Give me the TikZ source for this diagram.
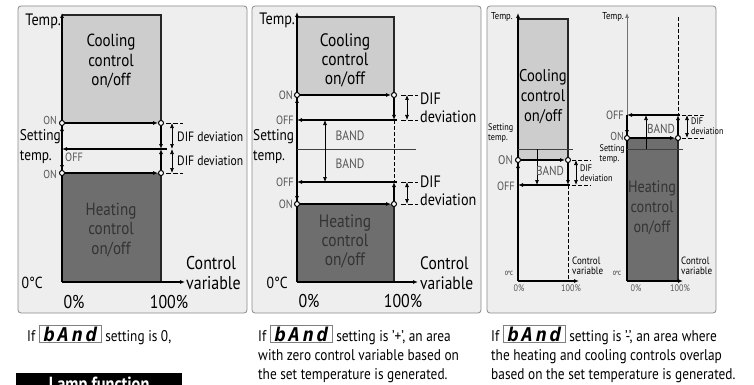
\documentclass[tikz,border=0pt]{standalone}
\usepackage{fontspec}
\setmainfont[FakeStretch=0.86]{PT Sans}
\newfontfamily\segfont{DejaVu Sans Mono}
\usepackage{tikz}
\usetikzlibrary{arrows, arrows.meta, positioning}
\definecolor{panelbg}{HTML}{EEEEEE}
\definecolor{panelline}{HTML}{8A8A8A}
\definecolor{coolfill}{HTML}{CDCDCD}
\definecolor{heatfill}{HTML}{6E6E6E}
\definecolor{softtext}{HTML}{555555}
\newcommand{\bandbox}{{\setlength{\fboxsep}{0.6pt}\setlength{\fboxrule}{0.8pt}%
  \fcolorbox{gray}{white}{\makebox[60pt]{\segfont\bfseries\itshape\fontsize{19}{19}\selectfont
  \,b\hfill A\hfill n\hfill d\,}}}}

\begin{document}
\begin{tikzpicture}[x=1pt,y=-1pt,>={Latex[length=5pt,width=4pt]}]
 \tikzstyle{panel}=[draw=panelline,fill=panelbg,rounded corners=3pt,line width=0.8pt]
 \tikzstyle{hyst}=[line width=1.6pt,black]
 \tikzstyle{link}=[line width=1.1pt,black]
 \tikzstyle{dim}=[line width=0.7pt,black]
 \tikzstyle{tick}=[line width=0.7pt,dashed,dash pattern=on 5pt off 2pt,black]
 \tikzstyle{edge}=[line width=1.4pt,black!85]
 \tikzstyle{axis}=[line width=1.1pt,black]
 \tikzstyle{pt}=[circle,draw,fill=white,line width=1pt,inner sep=0pt,minimum size=5pt]
 \tikzstyle{boxtext}=[align=center,inner sep=0pt,font=\fontsize{17.5}{19.5}\selectfont]
 \tikzstyle{smalltext}=[inner sep=0pt,text=softtext,font=\fontsize{12}{12}\selectfont]
 \tikzstyle{axtext}=[inner sep=0pt,font=\fontsize{18.5}{20}\selectfont]
 \tikzstyle{captext}=[inner sep=0pt,anchor=base west,font=\fontsize{15.5}{18}\selectfont]
 \clip (0,0) rectangle (754,385);

 % ---------- panel 1: band = 0
 \draw[panel] (18,6) rectangle (247,313);
 \fill[coolfill] (62,15) rectangle (161,123);
 \fill[heatfill] (62,173) rectangle (161,282);
 \draw[edge] (62,15) -- (161,15) -- (161,123);
 \draw[edge] (161,173) -- (161,282);
 \coordinate (o1) at (62,282);
 \coordinate (t1) at (62,13);
 \coordinate (x1) at (185,282);
 \draw[axis,->] (o1) -- (t1);
 \draw[axis,->] (o1) -- (x1);
 \node (cool1) [boxtext] at (111,61) {Cooling\\control\\on/off};
 \node (heat1) [boxtext,text=black!80] at (111,230) {Heating\\control\\on/off};
 \node (on1u) [pt] at (62,123) {};
 \node (on1ur) [pt] at (161,123) {};
 \node (on1l) [pt] at (62,173) {};
 \node (on1lr) [pt] at (161,173) {};
 \coordinate (off1l) at (62,149);
 \coordinate (off1r) at (167,149);
 \coordinate (off1m) at (161,149);
 \draw[hyst,->] (on1u) -- (on1ur);
 \draw[hyst,->] (on1l) -- (on1lr);
 \draw[hyst,->] (off1r) -- (off1l);
 \draw[link,->] (off1l) -- (on1u);
 \draw[link,->] (off1l) -- (on1l);
 \draw[link,->] (on1ur) -- (off1m);
 \draw[link,->] (on1lr) -- (off1m);
 \draw[dim,<->] (172,123) -- (172,149);
 \draw[dim,<->] (172,149) -- (172,173);
 \draw[tick] (166,123) -- (183,123);
 \draw[tick] (166,173) -- (183,173);
 \node (dif1a) [axtext,anchor=west,font=\fontsize{13.5}{13.5}\selectfont] at (177,137) {DIF deviation};
 \node (dif1b) [axtext,anchor=west,font=\fontsize{13.5}{13.5}\selectfont] at (177,161) {DIF deviation};
 \node (on1ut) [smalltext,anchor=east,font=\fontsize{11.5}{11.5}\selectfont] at (57,120) {ON};
 \node (on1lt) [smalltext,anchor=east,font=\fontsize{11.5}{11.5}\selectfont] at (57,174) {ON};
 \node (off1t) [smalltext,anchor=west] at (65,157) {OFF};
 \node (set1) [axtext,anchor=east,align=left,font=\fontsize{15.5}{20}\selectfont] at (61,147) {Setting\\temp.};
 \node (temp1) [axtext,anchor=east,font=\fontsize{16.5}{16.5}\selectfont] at (61,21) {Temp.};
 \node (zero1) [axtext,anchor=east,font=\fontsize{16}{16}\selectfont] at (43,283) {0°C};
 \node (p01) [axtext] at (74,302) {0\%};
 \node (p1001) [axtext] at (169,302) {100\%};
 \node (cv1) [axtext,anchor=west,align=left] at (186,273) {Control\\variable};
 \node (cap1) [captext] at (27,341) {If \bandbox\ setting is 0,};
 \node (lamp) [anchor=north west,fill=black,text=white,minimum width=166pt,minimum height=24pt,
   inner sep=0pt,font=\bfseries\fontsize{19}{19}\selectfont] at (16,373) {Lamp function};

 % ---------- panel 2: band +
 \draw[panel] (252,6) rectangle (481,313);
 \fill[coolfill] (297,17) rectangle (394,95);
 \fill[heatfill] (297,204) rectangle (394,282);
 \draw[edge] (297,17) -- (394,17) -- (394,95);
 \draw[edge] (394,204) -- (394,282);
 \coordinate (o2) at (297,282);
 \coordinate (t2) at (297,12);
 \coordinate (x2) at (418,282);
 \draw[axis,->] (o2) -- (t2);
 \draw[axis,->] (o2) -- (x2);
 \node (cool2) [boxtext,font=\fontsize{18}{19}\selectfont] at (345,60) {Cooling\\control\\on/off};
 \node (heat2) [boxtext,text=black!80,font=\fontsize{18}{19}\selectfont] at (345,241) {Heating\\control\\on/off};
 \node (on2u) [pt] at (297,95) {};
 \node (on2ur) [pt] at (394,95) {};
 \node (on2l) [pt] at (297,204) {};
 \node (on2lr) [pt] at (394,204) {};
 \coordinate (off2ul) at (297,120);
 \coordinate (off2ur) at (397,120);
 \coordinate (off2um) at (394,120);
 \coordinate (off2ll) at (297,182);
 \coordinate (off2lr) at (397,182);
 \coordinate (off2lm) at (394,182);
 \coordinate (set2l) at (297,149);
 \coordinate (set2r) at (416,149);
 \draw[line width=0.7pt,black!75] (set2l) -- (set2r);
 \draw[dim,dashed,dash pattern=on 4pt off 2pt] (off2um) -- (off2lm);
 \draw[hyst,->] (on2u) -- (on2ur);
 \draw[hyst,->] (on2l) -- (on2lr);
 \draw[hyst,->] (off2ur) -- (off2ul);
 \draw[hyst,->] (off2lr) -- (off2ll);
 \draw[link,->] (off2ul) -- (on2u);
 \draw[link,->] (off2ll) -- (on2l);
 \draw[link,->] (on2ur) -- (off2um);
 \draw[link,->] (on2lr) -- (off2lm);
 \draw[dim,<->] (325,120) -- (325,182);
 \draw[dim,<->] (407,95) -- (407,120);
 \draw[dim,<->] (407,182) -- (407,204);
 \draw[tick] (401,95) -- (418,95);
 \draw[tick] (401,120) -- (418,120);
 \draw[tick] (401,182) -- (418,182);
 \draw[tick] (401,204) -- (418,204);
 \node (band2a) [smalltext,font=\fontsize{13.5}{13.5}\selectfont] at (350,136) {BAND};
 \node (band2b) [smalltext,font=\fontsize{13.5}{13.5}\selectfont] at (350,164) {BAND};
 \node (dif2a) [axtext,anchor=west,align=left,font=\fontsize{16.5}{18}\selectfont] at (420,108) {DIF\\deviation};
 \node (dif2b) [axtext,anchor=west,align=left,font=\fontsize{16.5}{18}\selectfont] at (420,191) {DIF\\deviation};
 \node (on2ut) [smalltext,anchor=east] at (293,95) {ON};
 \node (off2ut) [smalltext,anchor=east] at (294,120) {OFF};
 \node (off2lt) [smalltext,anchor=east] at (294,182) {OFF};
 \node (on2lt) [smalltext,anchor=east] at (293,204) {ON};
 \node (set2) [axtext,anchor=west,align=left,font=\fontsize{15.5}{20}\selectfont] at (253,147) {Setting\\temp.};
 \node (temp2) [axtext,anchor=east,font=\fontsize{16.5}{16.5}\selectfont] at (295,20) {Temp.};
 \node (zero2) [axtext,anchor=east,font=\fontsize{16}{16}\selectfont] at (288,283) {0°C};
 \node (p02) [axtext] at (309,301) {0\%};
 \node (p1002) [axtext] at (403,301) {100\%};
 \node (cv2) [axtext,anchor=west,align=left,font=\fontsize{18}{20}\selectfont] at (420,273) {Control\\variable};
 \node (cap2a) [captext] at (258,341) {If \bandbox\ setting is '+', an area};
 \node (cap2b) [captext] at (258,360) {with zero control variable based on};
 \node (cap2c) [captext] at (258,379) {the set temperature is generated.};

 % ---------- panel 3: band -
 \draw[panel] (487,6) rectangle (716,313);
 % left graph (cooling)
 \fill[coolfill] (518,19) rectangle (568,160);
 \draw[edge] (518,19) -- (568,19) -- (568,160);
 \coordinate (o3) at (518,281);
 \coordinate (t3) at (518,13);
 \coordinate (x3) at (579,281);
 \draw[axis,->] (o3) -- (t3);
 \draw[axis,->] (o3) -- (x3);
 \node (cool3) [boxtext,font=\fontsize{17}{20}\selectfont] at (543,97) {Cooling\\control\\on/off};
 \coordinate (set3l) at (518,149);
 \coordinate (set3r) at (573,149);
 \coordinate (set3b) at (537,149);
 \draw[line width=0.7pt,black!75] (set3l) -- (set3r);
 \node (on3l) [pt] at (518,160) {};
 \node (on3r) [pt] at (568,160) {};
 \coordinate (off3l) at (518,185);
 \coordinate (off3r) at (570,185);
 \coordinate (off3m) at (568,185);
 \coordinate (off3b) at (537,185);
 \coordinate (cut3) at (568,281);
 \draw[dim,dashed,dash pattern=on 4pt off 2pt] (off3m) -- (cut3);
 \draw[hyst,->] (on3l) -- (on3r);
 \draw[hyst,->] (off3r) -- (off3l);
 \draw[link,->] (off3l) -- (on3l);
 \draw[link,->] (on3r) -- (off3m);
 \draw[dim,->] (set3b) -- (off3b);
 \draw[dim,<->] (576,160) -- (576,185);
 \draw[tick,dash pattern=on 4pt off 2pt] (572,160) -- (591,160);
 \draw[tick,dash pattern=on 4pt off 2pt] (572,185) -- (591,185);
 \node (band3a) [smalltext,font=\fontsize{13}{13}\selectfont] at (550,171) {BAND};
 \node (dif3a) [axtext,anchor=west,align=left,font=\fontsize{9.5}{10}\selectfont] at (580,173) {DIF\\deviation};
 \node (on3t) [smalltext,anchor=east,font=\fontsize{12.5}{12.5}\selectfont] at (513,160) {ON};
 \node (off3t) [smalltext,anchor=east,font=\fontsize{12}{12}\selectfont] at (515,186) {OFF};
 \node (set3) [axtext,anchor=west,align=left,font=\fontsize{9.5}{10.5}\selectfont] at (488,133) {Setting\\temp.};
 \node (temp3) [axtext,anchor=west,font=\fontsize{10}{10}\selectfont] at (491,17) {Temp.};
 \node (zero3) [axtext,font=\fontsize{6}{6}\selectfont] at (509,273) {0°C};
 \node (p03) [axtext,text=softtext,font=\fontsize{9.5}{9.5}\selectfont] at (519,288) {0\%};
 \node (p1003) [axtext,text=softtext,font=\fontsize{9.5}{9.5}\selectfont] at (571,288) {100\%};
 \node (cv3) [axtext,anchor=west,align=left,font=\fontsize{10.5}{10.5}\selectfont] at (572,266) {Control\\variable};
 % right graph (heating)
 \fill[heatfill] (627,138) rectangle (678,281);
 \draw[edge] (678,138) -- (678,281);
 \coordinate (o4) at (627,281);
 \coordinate (t4) at (627,13);
 \coordinate (x4) at (683,281);
 \coordinate (off4l) at (627,115);
 \draw[line width=0.7pt,black!55,->] (off4l) -- (t4);
 \draw[axis] (o4) -- (off4l);
 \draw[axis,->] (o4) -- (x4);
 \node (heat4) [boxtext,text=black!80,font=\fontsize{16.5}{20}\selectfont] at (652,208) {Heating\\control\\on/off};
 \coordinate (set4l) at (627,149);
 \coordinate (set4r) at (683,149);
 \coordinate (set4b) at (646,149);
 \draw[line width=0.7pt,black!75] (set4l) -- (set4r);
 \node (on4l) [pt] at (627,138) {};
 \node (on4r) [pt] at (678,138) {};
 \coordinate (off4r) at (680,115);
 \coordinate (off4m) at (678,115);
 \coordinate (off4b) at (646,115);
 \coordinate (top4) at (678,17);
 \draw[dim,dashed,dash pattern=on 4pt off 2pt] (top4) -- (off4m);
 \draw[hyst,->] (on4l) -- (on4r);
 \draw[hyst,->] (off4r) -- (off4l);
 \draw[link,->] (off4l) -- (on4l);
 \draw[link,->] (on4r) -- (off4m);
 \draw[dim,->] (set4b) -- (off4b);
 \draw[dim,<->] (687,115) -- (687,138);
 \draw[tick,dash pattern=on 4pt off 2pt] (682,115) -- (704,115);
 \draw[tick,dash pattern=on 4pt off 2pt] (682,138) -- (704,138);
 \node (band4a) [smalltext,font=\fontsize{13}{13}\selectfont] at (661,129) {BAND};
 \node (dif4a) [axtext,anchor=west,align=left,font=\fontsize{9.5}{10}\selectfont] at (691,126) {DIF\\deviation};
 \node (on4t) [smalltext,anchor=east,font=\fontsize{11.5}{11.5}\selectfont] at (624,136) {ON};
 \node (off4t) [smalltext,anchor=east,font=\fontsize{12}{12}\selectfont] at (624,115) {OFF};
 \node (set4) [axtext,anchor=east,align=left,font=\fontsize{9.5}{10.5}\selectfont] at (625,154) {Setting\\temp.};
 \node (temp4) [axtext,anchor=east,font=\fontsize{10}{10}\selectfont] at (624,17) {Temp.};
 \node (zero4) [axtext,font=\fontsize{6}{6}\selectfont] at (617,273) {0°C};
 \node (p04) [axtext,text=softtext,font=\fontsize{9.5}{9.5}\selectfont] at (636,288) {0\%};
 \node (p1004) [axtext,text=softtext,font=\fontsize{9.5}{9.5}\selectfont] at (680,288) {100\%};
 \node (cv4) [axtext,anchor=west,align=left,font=\fontsize{10.5}{10.5}\selectfont] at (681,266) {Control\\variable};
 \node (cap3a) [captext] at (491,341) {If \bandbox\ setting is '-', an area where};
 \node (cap3b) [captext] at (491,360) {the heating and cooling controls overlap};
 \node (cap3c) [captext] at (491,379) {based on the set temperature is generated.};
\end{tikzpicture}
\end{document}
